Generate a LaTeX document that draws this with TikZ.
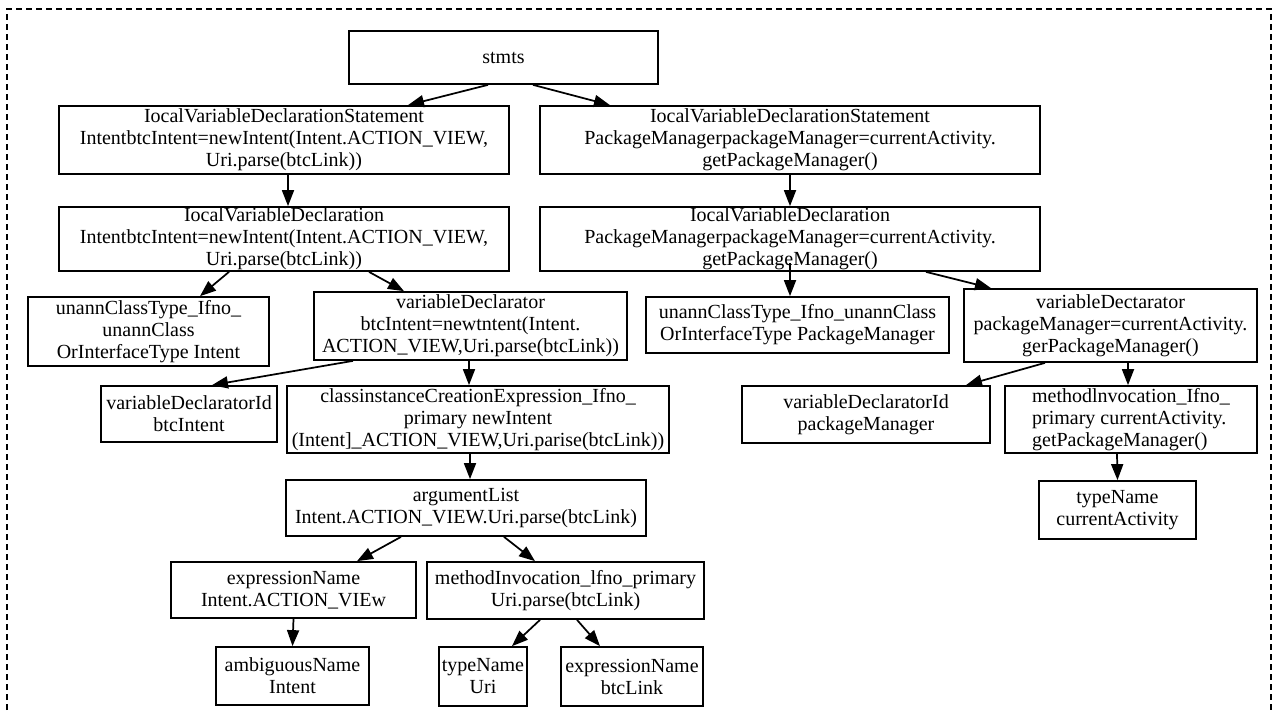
\documentclass[tikz,border=0pt]{standalone}
\usepackage{fontspec}
\setmainfont{Liberation Serif}
\usetikzlibrary{arrows.meta,calc}
\newcommand{\mybox}[7][]{%
  \pgfmathsetmacro{\bw}{(#5-#3)*0.75}%
  \pgfmathsetmacro{\bh}{(#6-#4)*0.75}%
  \node[box,minimum width=\bw pt,minimum height=\bh pt,#1] (#2) at ({(#3+#5)/2},{(#4+#6)/2}) {#7};}
\begin{document}
\begin{tikzpicture}[x=0.75pt,y=-0.75pt,
  box/.style={draw,line width=1.3pt,inner sep=0pt,align=center,fill=white,
    font=\fontsize{15}{16.5}\selectfont},
  arr/.style={line width=1.3pt,-{Triangle[length=12pt,width=9pt]}},
  frame/.style={line width=1.3pt,dash pattern=on 4.5pt off 3pt}]
\useasboundingbox (0,0) rectangle (1274,712);
\draw[frame] (7,730) -- (7,9) -- (1271,9) -- (1271,730);

\mybox{stmts}{349}{31}{658}{84}{stmts}
\mybox{A1}{59}{106}{509}{174}{IocalVariableDeclarationStatement\\IntentbtcIntent=newIntent(Intent.ACTION\_VIEW,\\Uri.parse(btcLink))}
\mybox{B1}{540}{106}{1040}{174}{IocalVariableDeclarationStatement\\PackageManagerpackageManager=currentActivity.\\getPackageManager()}
\mybox{A2}{59}{207}{509}{271}{IocalVariableDeclaration\\IntentbtcIntent=newIntent(Intent.ACTION\_VIEW,\\Uri.parse(btcLink))}
\mybox{B2}{540}{207}{1040}{271}{IocalVariableDeclaration\\PackageManagerpackageManager=currentActivity.\\getPackageManager()}
\mybox{A3}{28}{297}{269}{366}{unannClassType\_Ifno\_\\unannClass\\OrInterfaceType Intent}
\mybox{A4}{314}{292}{627}{360}{variableDeclarator\\btcIntent=newtntent(Intent.\\ACTION\_VIEW,Uri.parse(btcLink))}
\mybox{unannR}{646}{297}{949}{353}{unannClassType\_Ifno\_unannClass\\OrInterfaceType PackageManager}
\mybox{varDectR}{964}{289}{1257}{362}{variableDectarator\\packageManager=currentActivity.\\gerPackageManager()}
\mybox{varIdL}{101}{386}{277}{442}{variableDeclaratorId\\btcIntent}
\mybox{cice}{287}{386}{669}{453}{classinstanceCreationExpression\_Ifno\_\\primary newIntent\\(Intent]\_ACTION\_VIEW,Uri.parise(btcLink))}
\mybox{varIdR}{742}{386}{990}{443}{variableDeclaratorId\\packageManager}
\mybox[align=left]{methR}{1005}{386}{1257}{453}{methodlnvocation\_Ifno\_\\primary currentActivity.\\getPackageManager()}
\mybox{typeCA}{1039}{481}{1196}{539}{typeName\\currentActivity}
\mybox{argList}{286}{480}{646}{536}{argumentList\\Intent.ACTION\_VIEW.Uri.parse(btcLink)}
\mybox{exprL}{171}{562}{416}{618}{expressionName\\Intent.ACTION\_VIEw}
\mybox{methL}{427}{562}{704}{619}{methodInvocation\_lfno\_primary\\Uri.parse(btcLink)}
\mybox{ambig}{216}{647}{369}{705}{ambiguousName\\Intent}
\mybox{typeUri}{439}{647}{527}{706}{typeName\\Uri}
\mybox{exprBtc}{561}{647}{703}{706}{expressionName\\btcLink}

\draw[arr] ($(stmts.south)+(-15.5,0)$) -- ($(A1.north)+(124,0)$);
\draw[arr] ($(stmts.south)+(29.5,0)$) -- ($(B1.north)+(-180,0)$);
\draw[arr] ($(A1.south)+(4,0)$) -- ($(A2.north)+(4,0)$);
\draw[arr] (B1.south) -- (B2.north);
\draw[arr] ($(A2.south)+(-55,0)$) -- ($(A3.north)+(51.5,0)$);
\draw[arr] ($(A2.south)+(85,0)$) -- ($(A4.north)+(-66.5,0)$);
\draw[arr] ($(A4.south)+(-117.5,0)$) -- ($(varIdL.north)+(23,0)$);
\draw[arr] ($(A4.south)+(-1.5,0)$) -- ($(cice.north)+(-9,0)$);
\draw[arr] ($(B2.south)+(0,-9)$) -- ($(unannR.north)+(-7.5,0)$);
\draw[arr] ($(B2.south)+(136,0)$) -- ($(varDectR.north)+(-119.5,0)$);
\draw[arr] ($(varDectR.south)+(-65.5,0)$) -- ($(varIdR.north)+(100,0)$);
\draw[arr] ($(varDectR.south)+(17.5,0)$) -- ($(methR.north)+(-3,0)$);
\draw[arr] ($(methR.south)+(-14,0)$) -- (typeCA.north);
\draw[arr] ($(cice.south)+(-8,0)$) -- ($(argList.north)+(4,0)$);
\draw[arr] ($(argList.south)+(-65,0)$) -- ($(exprL.north)+(63.5,0)$);
\draw[arr] ($(argList.south)+(38,0)$) -- ($(methL.north)+(-30.5,0)$);
\draw[arr] (exprL.south) -- (ambig.north);
\draw[arr] ($(methL.south)+(-25.5,0)$) -- ($(typeUri.north)+(29,0)$);
\draw[arr] ($(methL.south)+(11.5,0)$) -- ($(exprBtc.north)+(-32,0)$);
\end{tikzpicture}
\end{document}
